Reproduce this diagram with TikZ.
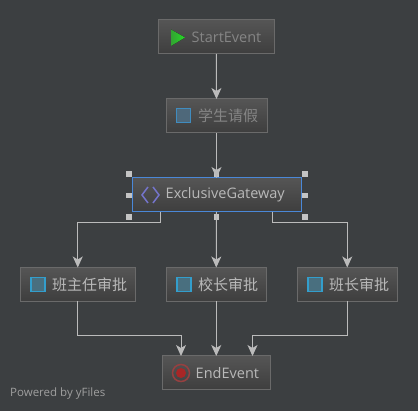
\documentclass[tikz,border=0pt]{standalone}
\usepackage{fontspec}
\setmainfont{Open Sans}
\newfontfamily\cjk{Noto Sans CJK SC}
\usetikzlibrary{arrows.meta}
\definecolor{bgc}{HTML}{3C3F41}
\definecolor{edgec}{HTML}{BBBBBB}
\definecolor{boxline}{HTML}{6A6A6A}
\definecolor{boxtop}{HTML}{555555}
\definecolor{boxbot}{HTML}{3E3E3E}
\definecolor{txton}{HTML}{B9B9B9}
\definecolor{txtdim}{HTML}{858585}
\definecolor{selc}{HTML}{4A88D8}
\definecolor{handlec}{HTML}{C4C4C4}
\tikzset{
  x=1pt,y=-1pt,
  boxn/.style={draw=boxline,line width=1pt,top color=boxtop,bottom color=boxbot,minimum height=34pt,inner sep=0pt,outer sep=0pt},
  selbox/.style={boxn,draw=selc},
  lbl/.style={anchor=west,inner sep=0pt,text=txton,font=\fontsize{14.5}{17}\selectfont},
  lbldim/.style={lbl,text=txtdim},
  cjklbl/.style={lbl,font=\fontsize{15}{18}\selectfont\cjk},
  cjkdim/.style={cjklbl,text=txtdim},
  conn/.style={draw=edgec,line width=1pt,-{Stealth[length=11pt,width=10pt,inset=3pt,fill=edgec]}},
  task/.style={draw=#1,line width=1.6pt,fill=#1!35!boxtop},
  hnd/.style={fill=handlec,minimum size=5.5pt,inner sep=0pt,outer sep=0pt},
  footer/.style={anchor=west,inner sep=0pt,text=black!0!gray!75,font=\fontsize{11.5}{14}\selectfont}
}
\begin{document}
\begin{tikzpicture}
\useasboundingbox[fill=bgc] (0,0) rectangle (418,411);
% boxes
\node[boxn,minimum width=116pt] (start) at (216.25,37) {};
\node[boxn,minimum width=101pt] (leave) at (216.5,116) {};
\node[selbox,minimum width=169pt] (gw) at (216.5,195) {};
\node[boxn,minimum width=115.5pt] (t1) at (77.75,284.5) {};
\node[boxn,minimum width=100.5pt] (t2) at (216.25,284.5) {};
\node[boxn,minimum width=100.5pt] (t3) at (347.25,284.5) {};
\node[boxn,minimum width=108pt] (end) at (216,373) {};
% handles
\node[hnd] (h1) at (129,174) {};
\node[hnd] (h2) at (216.5,174) {};
\node[hnd] (h3) at (305,174) {};
\node[hnd] (h4) at (129,195.5) {};
\node[hnd] (h5) at (305,195.5) {};
\node[hnd] (h6) at (129,217) {};
\node[hnd] (h7) at (216.5,217) {};
\node[hnd] (h8) at (305,217) {};
% named turning points
\coordinate (gl) at (160.5,212);
\coordinate (gr) at (272.5,212);
\coordinate (el) at (181,356);
\coordinate (er) at (252.5,356);
% connectors
\draw[conn] (start.south) -- (leave.north);
\draw[conn] (leave.south) -- (gw.north);
\draw[conn] (gw.south) -- (t2.north);
\draw[conn] (gl) -- (160.5,223) -| (t1.north);
\draw[conn] (gr) -- (272.5,223) -| (t3.north);
\draw[conn] (t1.south) |- (181,336) -- (el);
\draw[conn] (t2.south) -- (t2.south |- end.north);
\draw[conn] (t3.south) |- (252.5,336) -- (er);
% icons
\fill[left color=green!55!black!80,right color=green!70!gray] (171,29.5) -- (185,37.5) -- (171,46) -- cycle;
\draw[task=blue!40!cyan!50!gray] (176.5,108.5) rectangle (190.5,122.5);
\draw[task=blue!30!cyan!60!gray] (31,277.5) rectangle (45,291.5);
\draw[task=blue!30!cyan!60!gray] (177,277.5) rectangle (191,291.5);
\draw[task=blue!30!cyan!60!gray] (308,277.5) rectangle (322,291.5);
\draw[line width=1.5pt,draw=blue!45!gray!75] (148,187) -- (142,195) -- (148,203);
\draw[line width=1.5pt,draw=blue!45!gray!75] (153,187) -- (159,195) -- (153,203);
\draw[line width=1.5pt,draw=red!45!black!75] (181,373) circle (8.5pt);
\fill[red!60!black!85] (181,373) circle (5pt);
% labels
\node[lbldim] (l1) at (191.5,37) {StartEvent};
\node[cjkdim] (l2) at (198,116) {学生请假};
\node[lbl] (l3) at (165.5,195) {ExclusiveGateway};
\node[cjklbl] (l4) at (52,284.5) {班主任审批};
\node[cjklbl] (l5) at (198,284.5) {校长审批};
\node[cjklbl] (l6) at (329,284.5) {班长审批};
\node[lbl] (l7) at (195.5,373) {EndEvent};
\node[footer] (pw) at (10,394) {Powered by yFiles};
\end{tikzpicture}
\end{document}
